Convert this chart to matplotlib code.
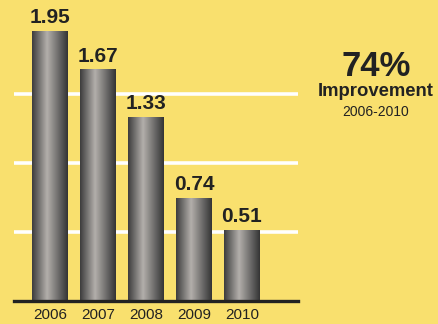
import matplotlib

matplotlib.use("Agg")
import matplotlib.pyplot as plt
import numpy as np
from matplotlib.colors import LinearSegmentedColormap

years = ["2006", "2007", "2008", "2009", "2010"]
values = [1.95, 1.67, 1.33, 0.74, 0.51]
gridlines = [0.5, 1.0, 1.5]
headline = "74%"
subhead = "Improvement"
period = "2006-2010"

BG = "#f9e06e"
INK = "#222222"
FONT = ["Liberation Sans", "DejaVu Sans"]

plt.rcParams["font.family"] = FONT

# metal-tube shading across each bar: dark rims, bright band left of centre
metal = LinearSegmentedColormap.from_list(
    "metal",
    [(0.0, "#3c3c3c"), (0.12, "#5e5d5c"), (0.42, "#b3afab"),
     (0.75, "#6a6968"), (1.0, "#343434")],
)
shade = np.linspace(0, 1, 256).reshape(1, -1)

fig = plt.figure(figsize=(4.39, 3.24), dpi=100, facecolor=BG)
ax = fig.add_axes([14 / 439, 23 / 324, 284 / 439, 301 / 324])
ax.set_facecolor(BG)
ax.set_xlim(-0.75, 5.17)
ax.set_ylim(0, 2.176)

x = np.arange(len(years))
width = 0.75

for g in gridlines:
    ax.axhline(g, color="white", lw=2.6, zorder=1)

for xi, v in zip(x, values):
    ax.imshow(shade, cmap=metal, aspect="auto", zorder=2,
              extent=[xi - width / 2, xi + width / 2, 0, v])
    ax.annotate(f"{v:.2f}", (xi, v), xytext=(0, 3), textcoords="offset points",
                ha="center", va="bottom", fontsize=15, fontweight="bold",
                color=INK, zorder=3)

ax.axhline(0, color=INK, lw=2.4, zorder=4, clip_on=False)

ax.set_xticks(x)
ax.set_xticklabels(years, fontsize=11, color=INK)
ax.tick_params(axis="x", length=0, pad=5)
ax.set_yticks([])
for side in ax.spines.values():
    side.set_visible(False)

fig.text(376 / 439, 1 - 66 / 324, headline, ha="center", va="center",
         fontsize=25, fontweight="bold", color=INK)
fig.text(376 / 439, 1 - 91 / 324, subhead, ha="center", va="center",
         fontsize=13.3, fontweight="bold", color=INK)
fig.text(376 / 439, 1 - 112 / 324, period, ha="center", va="center",
         fontsize=10, color=INK)

fig.savefig("out.png", dpi=100, facecolor=BG)
